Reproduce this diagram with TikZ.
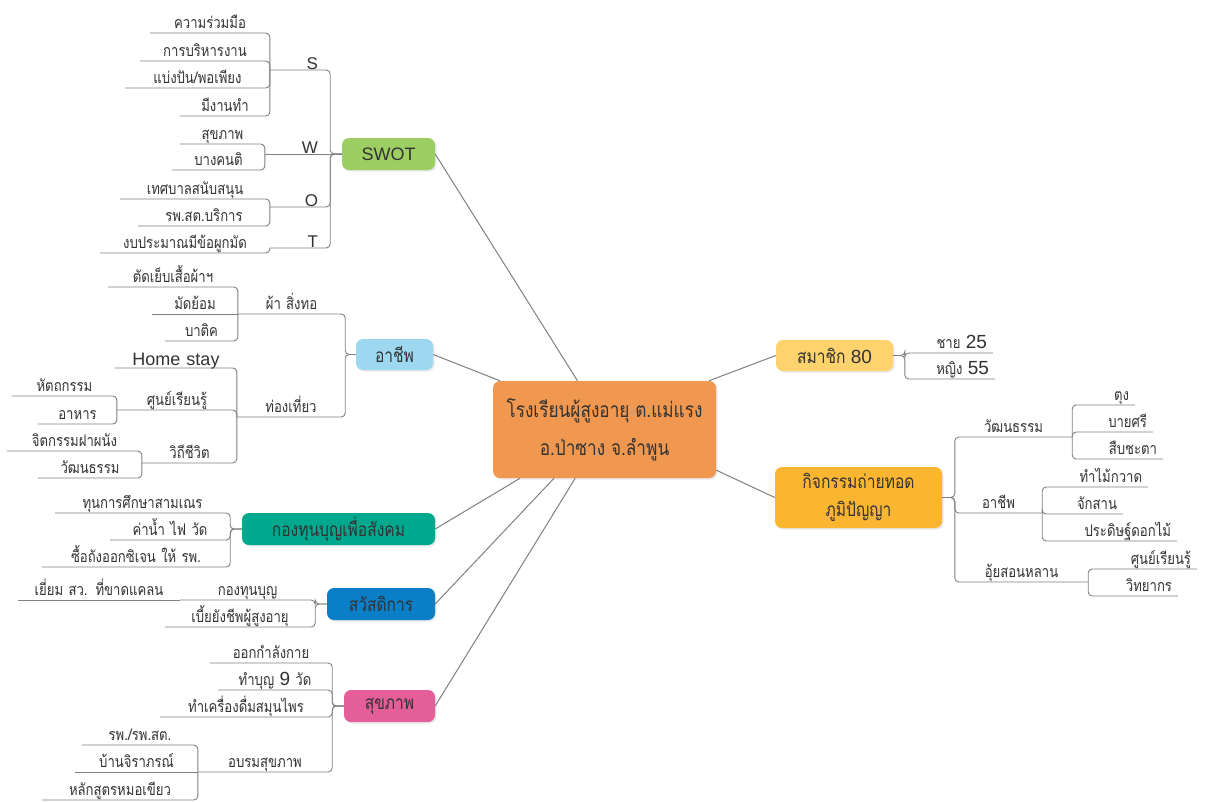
\documentclass[tikz,border=0pt]{standalone}
\usepackage{fontspec}
\setmainfont{Loma}[Script=Thai,FakeStretch=0.82]
\newfontfamily\latin{Liberation Sans}
\usepackage{tikz}
\usetikzlibrary{shadows}

\definecolor{linegray}{RGB}{128,128,128}
\definecolor{textgray}{RGB}{51,51,51}
\definecolor{ctrorange}{RGB}{241,152,80}
\definecolor{swotgreen}{RGB}{157,206,100}
\definecolor{jobblue}{RGB}{158,215,240}
\definecolor{fundteal}{RGB}{0,168,142}
\definecolor{welfblue}{RGB}{10,126,198}
\definecolor{hlthpink}{RGB}{228,94,154}
\definecolor{membyellow}{RGB}{254,210,108}
\definecolor{wisdorange}{RGB}{251,182,49}

\newcommand\latnum[1]{{\latin\fontsize{19}{20}\selectfont #1}}

\tikzset{
  leaf/.style={anchor=south, text width=#1, inner xsep=0pt, inner ysep=4pt, text depth=0pt,
    align=center, text=textgray, font=\fontsize{16}{18}\selectfont},
  leafr/.style={leaf=#1, align=right, execute at end node={\kern6pt}},
  letter/.style={anchor=south, text width=#1, inner xsep=0pt, inner ysep=0.5pt, text depth=0pt,
    align=right, text=textgray, font=\latin\fontsize{17}{20}\selectfont, execute at end node={\kern12pt}},
  box/.style={rounded corners=7pt, inner sep=0pt, align=center, text=textgray,
    font=\fontsize{19}{28}\selectfont, drop shadow={opacity=0.18, shadow xshift=1.5pt, shadow yshift=-1.5pt}},
  conn/.style={draw=linegray, line width=0.9pt, rounded corners=4pt},
  spoke/.style={draw=linegray, line width=1pt},
}

\begin{document}
\begin{tikzpicture}[x=1pt, y=-1pt]
\useasboundingbox[fill=white] (0,0) rectangle (1205,801);

\node[box, fill=ctrorange, minimum width=223pt, minimum height=97pt, font=\fontsize{21}{38}\selectfont] (ctr) at (604.5,429.5) {โรงเรียนผู้สูงอายุ ต.แม่แรง\\อ.ป่าซาง จ.ลำพูน};
\node[box, fill=swotgreen, minimum width=93pt, minimum height=32pt, font=\latin\fontsize{18}{20}\selectfont] (swot) at (388.5,154) {SWOT};
\node[box, fill=jobblue, minimum width=77pt, minimum height=31pt] (job) at (394.5,354.5) {อาชีพ};
\node[box, fill=fundteal, minimum width=193pt, minimum height=32pt] (fund) at (338.5,529) {กองทุนบุญเพื่อสังคม};
\node[box, fill=welfblue, minimum width=108pt, minimum height=32pt] (welf) at (381,604) {สวัสดิการ};
\node[box, fill=hlthpink, minimum width=91pt, minimum height=32pt] (hlth) at (389.5,706) {สุขภาพ};
\node[box, fill=membyellow, minimum width=117pt, minimum height=31pt] (memb) at (834.5,355.5) {สมาชิก {\latin 80}};
\node[box, fill=wisdorange, minimum width=167pt, minimum height=61pt] (wisd) at (858.5,497.5) {กิจกรรมถ่ายทอด\\ภูมิปัญญา};

\draw[spoke] (swot.east) -- (ctr.119);
\draw[spoke] (job.east) -- (ctr.155);
\draw[spoke] (fund.east) -- (ctr.210);
\draw[spoke] (welf.east) -- (ctr.224);
\draw[spoke] (hlth.east) -- (ctr.239);
\draw[spoke] (ctr.25) -- (memb.west);
\draw[spoke] (ctr.340) -- (wisd.west);

% SWOT
\node[letter=60pt] (S) at (300,70) {S};
\node[letter=65pt] (W) at (297.5,154) {W};
\node[letter=60pt] (O) at (300,207) {O};
\node[letter=60pt] (T) at (300,248) {T};
\node[leaf=120pt] (s1) at (210,33) {ความร่วมมือ};
\node[leaf=130pt] (s2) at (205,61) {การบริหารงาน};
\node[leaf=145pt] (s3) at (197.5,88) {แบ่งปัน/พอเพียง};
\node[leaf=90pt] (s4) at (225,116) {มีงานทำ};
\node[leaf=85pt] (w1) at (222.5,144) {สุขภาพ};
\node[leaf=93pt] (w2) at (218.5,170) {บางคนติ};
\node[leaf=150pt] (o1) at (195,199) {เทศบาลสนับสนุน};
\node[leaf=132pt] (o2) at (204,226) {รพ.สต.บริการ};
\node[leaf=170pt] (t1) at (185,253) {งบประมาณมีข้อผูกมัด};

\foreach \kid in {S,O,T}
{
  \draw[conn] (swot.west) -| (\kid.south east) -- (\kid.south west);
}
\draw[conn] (swot.west) -- (W.south west);
\foreach \kid in {s1,s2,s3,s4}
{
  \draw[conn] (S.south west) |- (\kid.south west);
}
\foreach \kid in {w1,w2}
{
  \draw[conn] (W.south west) |- (\kid.south west);
}
\foreach \kid in {o1,o2}
{
  \draw[conn] (O.south west) |- (\kid.south west);
}
\draw[conn] (T.south west) |- (t1.south west);

% อาชีพ
\node[leaf=107pt] (a1) at (291.5,314) {ผ้า สิ่งทอ};
\node[leaf=108pt] (a2) at (291,417) {ท่องเที่ยว};
\node[leaf=130pt] (a11) at (173,287) {ตัดเย็บเสื้อผ้าฯ};
\node[leaf=86pt] (a12) at (195,314) {มัดย้อม};
\node[leaf=73pt] (a13) at (201.5,341) {บาติค};
\node[leaf=122pt, font=\latin\fontsize{18}{20}\selectfont, inner ysep=2pt] (a21) at (176,368) {Home stay};
\node[leaf=120pt] (a22) at (177,410) {ศูนย์เรียนรู้};
\node[leaf=95pt] (a23) at (189.5,463) {วิถีชีวิต};
\node[leaf=105pt] (a221) at (64.5,396) {หัตถกรรม};
\node[leaf=79pt] (a222) at (77.5,424) {อาหาร};
\node[leaf=135pt] (a231) at (74.5,451) {จิตกรรมฝาผนัง};
\node[leaf=104pt] (a232) at (90,478) {วัฒนธรรม};

\foreach \kid in {a1,a2}
{
  \draw[conn] (job.west) -| (\kid.south east) -- (\kid.south west);
}
\foreach \kid in {a11,a13}
{
  \draw[conn] (a1.south west) |- (\kid.south west);
}
\draw[conn] (a1.south west) -- (a12.south west);
\foreach \kid in {a21,a22,a23}
{
  \draw[conn] (a2.south west) |- (\kid.south west);
}
\foreach \kid in {a221,a222}
{
  \draw[conn] (a22.south west) |- (\kid.south west);
}
\foreach \kid in {a231,a232}
{
  \draw[conn] (a23.south west) |- (\kid.south west);
}

% กองทุนบุญเพื่อสังคม
\node[leaf=175pt] (k1) at (142.5,513) {ทุนการศึกษาสามเณร};
\node[leaf=120pt] (k2) at (170,540) {ค่าน้ำ ไฟ วัด};
\node[leaf=188pt] (k3) at (136,567) {ซื้อถังออกซิเจน ให้ รพ.};
\foreach \kid in {k1,k2,k3}
{
  \draw[conn] (fund.west) -| (\kid.south east) -- (\kid.south west);
}

% สวัสดิการ
\node[leaf=135pt] (sw1) at (247.5,600) {กองทุนบุญ};
\node[leaf=150pt] (sw2) at (240,627) {เบี้ยยังชีพผู้สูงอายุ};
\node[leaf=162pt] (sw11) at (99,600) {เยี่ยม สว. ที่ขาดแคลน};
\foreach \kid in {sw1,sw2}
{
  \draw[conn] (welf.west) -| (\kid.south east) -- (\kid.south west);
}
\draw[conn] (sw1.south west) -- (sw11.south west);

% สุขภาพ
\node[leaf=122pt] (h1) at (271,663) {ออกกำลังกาย};
\node[leaf=114pt] (h2) at (275,690) {ทำบุญ \latnum{9} วัด};
\node[leaf=172pt] (h3) at (246,717) {ทำเครื่องดื่มสมุนไพร};
\node[leaf=134pt] (h4) at (265,772) {อบรมสุขภาพ};
\node[leaf=116pt] (h41) at (140,745) {รพ./รพ.สต.};
\node[leaf=123pt] (h42) at (136.5,772) {บ้านจิราภรณ์};
\node[leaf=156pt] (h43) at (120,800) {หลักสูตรหมอเขียว};
\foreach \kid in {h1,h2,h3,h4}
{
  \draw[conn] (hlth.west) -| (\kid.south east) -- (\kid.south west);
}
\foreach \kid in {h41,h43}
{
  \draw[conn] (h4.south west) |- (\kid.south west);
}
\draw[conn] (h4.south west) -- (h42.south west);

% สมาชิก
\node[leafr=88pt] (m1) at (949,353) {ชาย \latnum{25}};
\node[leafr=90pt] (m2) at (950,379) {หญิง \latnum{55}};
\foreach \kid in {m1,m2}
{
  \draw[conn] (memb.east) -| (\kid.south west) -- (\kid.south east);
}

% กิจกรรมถ่ายทอดภูมิปัญญา
\node[leaf=117pt] (g1) at (1013.5,437) {วัฒนธรรม};
\node[leaf=87pt] (g2) at (998.5,513) {อาชีพ};
\node[leaf=133pt] (g3) at (1021.5,582) {อุ้ยสอนหลาน};
\node[leafr=63pt] (g11) at (1103.5,405) {ตุง};
\node[leafr=81pt] (g12) at (1112.5,432) {บายศรี};
\node[leafr=91pt] (g13) at (1117.5,459) {สืบชะตา};
\node[leafr=106pt] (g21) at (1095,487) {ทำไม้กวาด};
\node[leafr=81pt] (g22) at (1082.5,514) {จักสาน};
\node[leafr=135pt] (g23) at (1109.5,541) {ประดิษฐ์ดอกไม้};
\node[leafr=109pt] (g31) at (1142.5,569) {ศูนย์เรียนรู้};
\node[leafr=90pt] (g32) at (1133,596) {วิทยากร};
\foreach \kid in {g1,g2,g3}
{
  \draw[conn] (wisd.east) -| (\kid.south west) -- (\kid.south east);
}
\foreach \kid in {g11,g12,g13}
{
  \draw[conn] (g1.south east) |- (\kid.south east);
}
\foreach \kid in {g21,g22,g23}
{
  \draw[conn] (g2.south east) |- (\kid.south east);
}
\foreach \kid in {g31,g32}
{
  \draw[conn] (g3.south east) |- (\kid.south east);
}
\end{tikzpicture}
\end{document}
